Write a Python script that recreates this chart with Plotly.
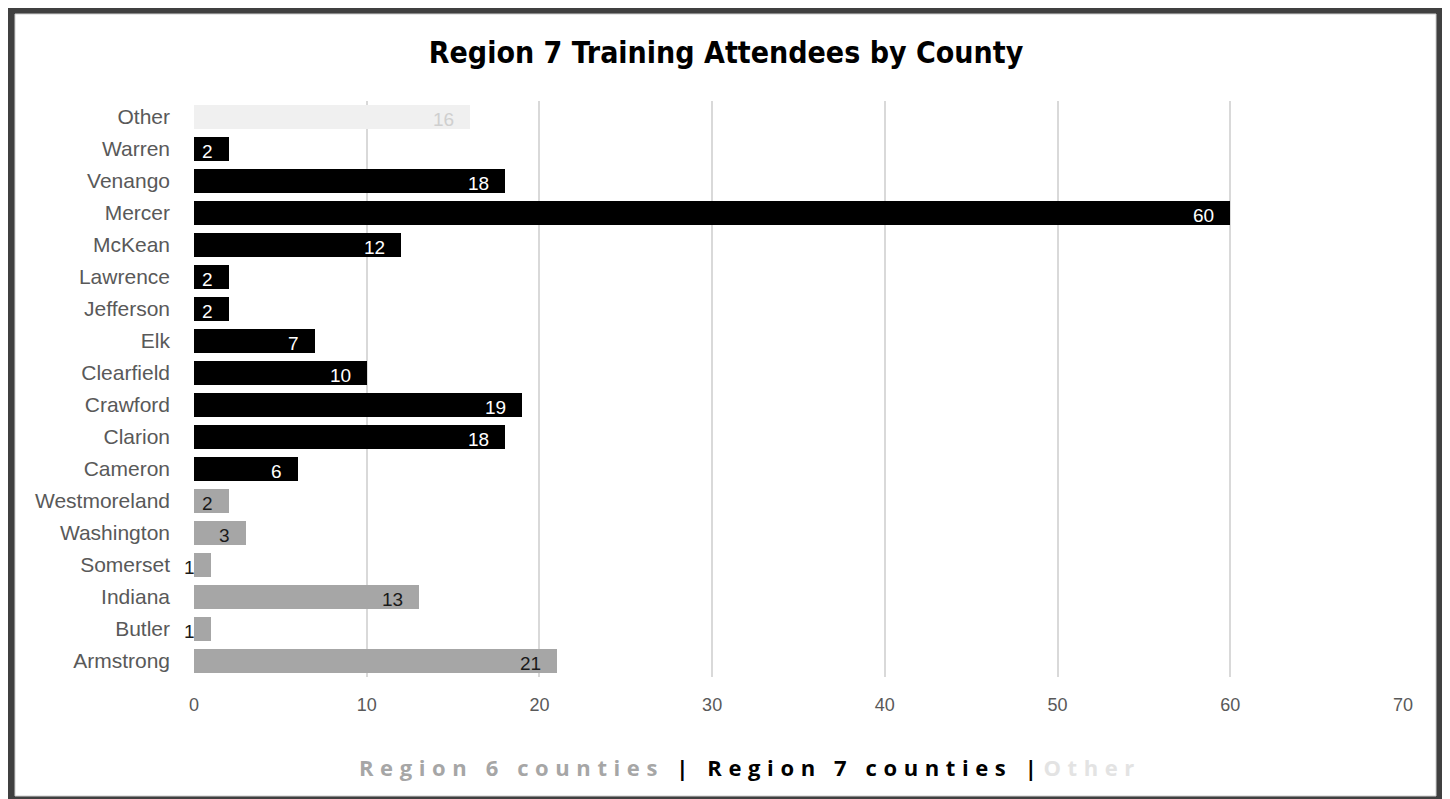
import plotly.graph_objects as go

# ---- data ----
region6_counties = ["Armstrong", "Butler", "Indiana", "Somerset", "Washington", "Westmoreland"]
region6_values = [21, 1, 13, 1, 3, 2]
region7_counties = ["Cameron", "Clarion", "Crawford", "Clearfield", "Elk", "Jefferson",
                    "Lawrence", "McKean", "Mercer", "Venango", "Warren"]
region7_values = [6, 18, 19, 10, 7, 2, 2, 12, 60, 18, 2]
other_counties = ["Other"]
other_values = [16]
x_ticks = [0, 10, 20, 30, 40, 50, 60, 70]

title_text = "Region 7 Training Attendees by County"

# ---- styles ----
C6 = "#a6a6a6"
C7 = "#000000"
CO = "#f0f0f0"
LBL6 = "#1a1a1a"
LBL7 = "#ffffff"
LBLO = "#cfcfcf"
COND = "DejaVu Sans Condensed, DejaVu Sans, sans-serif"
SANS = "Liberation Sans, Arial, sans-serif"

# page body has an 8px margin; figure coordinates below are relative to the figure
W, H = 1437, 791
L, R, T, B = 186, 42, 93, 122
PW, PH = W - L - R, H - T - B
OFF = 8


def px_x(sx):
    return (sx - OFF - L) / PW


def px_y(sy):
    return (H - B - (sy - OFF)) / PH


category_order = region6_counties + region7_counties + other_counties

fig = go.Figure()
groups = [
    ("Region 6 counties", region6_counties, region6_values, C6, LBL6),
    ("Region 7 counties", region7_counties, region7_values, C7, LBL7),
    ("Other", other_counties, other_values, CO, LBLO),
]
annotations = []
for name, cats, vals, col, lcol in groups:
    fig.add_trace(go.Bar(
        name=name, y=cats, x=vals, orientation="h",
        marker=dict(color=col, line=dict(width=0)),
        hoverinfo="x+y",
    ))
    for c, v in zip(cats, vals):
        annotations.append(dict(
            x=v, y=c, xref="x", yref="y", text=str(v), showarrow=False,
            xanchor="right", yanchor="middle", xshift=-14, yshift=-2,
            font=dict(family=SANS, size=19, color=lcol),
        ))

legend_text = (
    '<span style="letter-spacing:6.6px">'
    '<span style="color:#a6a6a6">Region 6 counties</span>'
    '<span style="color:#000000"> | Region 7 counties |</span>'
    '<span style="color:#e3e3e3">Other</span>'
    '</span>'
)
annotations.append(dict(
    x=px_x(750), y=px_y(767), xref="paper", yref="paper", text=legend_text,
    showarrow=False, xanchor="center", yanchor="middle",
    font=dict(family="Open Sans, Noto Sans, sans-serif", size=22, color="#000000", weight=700),
))

shapes = [dict(
    type="rect", xref="paper", yref="paper", layer="below",
    x0=px_x(15), x1=px_x(1436), y0=px_y(796), y1=px_y(14),
    fillcolor="white", line=dict(color="#cfcfcf", width=1),
)]

fig.update_layout(
    width=W, height=H,
    margin=dict(l=L, r=R, t=T, b=B, pad=0),
    paper_bgcolor="#404040", plot_bgcolor="white",
    barmode="stack", bargap=0.25,
    showlegend=False,
    title=dict(text=f"<b>{title_text}</b>", x=(726 - OFF) / W, xanchor="center",
               y=1 - (52 - OFF) / H, yanchor="middle", yref="container",
               font=dict(family=COND, size=30, color="#000000")),
    xaxis=dict(range=[0, 70], tickvals=x_ticks, showgrid=True, gridcolor="#d9d9d9",
               gridwidth=2, zeroline=False, showline=False, ticks="",
               ticklabelstandoff=15,
               tickfont=dict(family=SANS, size=18, color="#595959")),
    yaxis=dict(categoryorder="array", categoryarray=category_order, showgrid=False,
               zeroline=False, showline=False, ticks="", ticklabelstandoff=23,
               tickfont=dict(family=SANS, size=21, color="#595959")),
    annotations=annotations,
    shapes=shapes,
)

fig.write_html("out.html")
